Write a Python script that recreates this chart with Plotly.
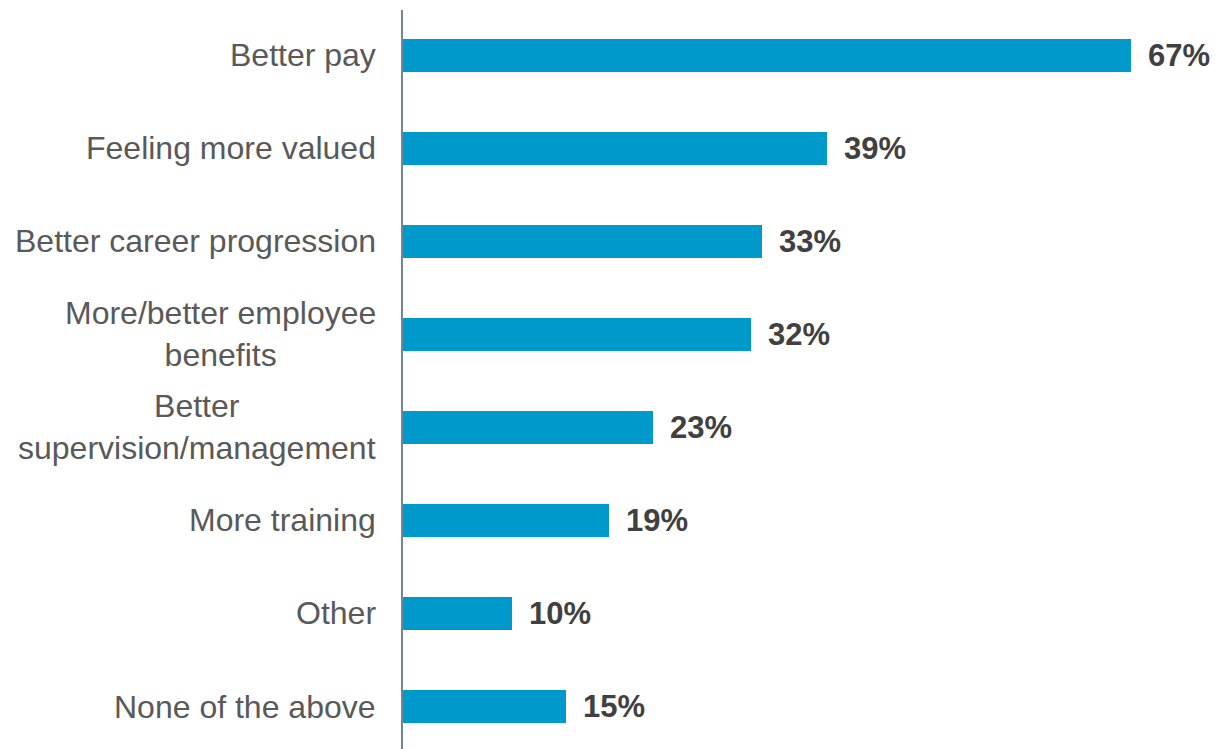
import plotly.graph_objects as go

# Survey responses: what would make employees stay
categories = [
    "Better pay",
    "Feeling more valued",
    "Better career progression",
    "More/better employee<br>benefits",
    "Better<br>supervision/management",
    "More training",
    "Other",
    "None of the above",
]
values = [67, 39, 33, 32, 23, 19, 10, 15]
value_labels = ["67%", "39%", "33%", "32%", "23%", "19%", "10%", "15%"]

BAR_COLOR = "#0099CC"
LABEL_COLOR = "#595959"
VALUE_COLOR = "#404040"
AXIS_COLOR = "#71869A"
FONT = "Liberation Sans, Arial, sans-serif"

idx = list(range(len(categories)))

fig = go.Figure(
    go.Bar(
        x=values,
        y=idx,
        orientation="h",
        marker=dict(color=BAR_COLOR, line=dict(width=0)),
        width=0.355,
        hoverinfo="skip",
    )
)

annotations = []
# Category names, centred per line, to the left of the axis
for i, cat in enumerate(categories):
    annotations.append(
        dict(
            x=0, xref="paper", y=i, yref="y",
            text=cat, showarrow=False,
            xanchor="right", yanchor="middle", align="center",
            xshift=-25,
            font=dict(family=FONT, size=32, color=LABEL_COLOR),
        )
    )
# Value labels at the end of each bar
for i, (v, lab) in enumerate(zip(values, value_labels)):
    annotations.append(
        dict(
            x=v, xref="x", y=i, yref="y",
            text=f"<b>{lab}</b>", showarrow=False,
            xanchor="left", yanchor="middle",
            xshift=15,
            font=dict(family=FONT, size=31, color=VALUE_COLOR),
        )
    )

fig.update_layout(
    width=1215,
    height=749,
    margin=dict(l=403, r=0, t=10, b=0, pad=0),
    paper_bgcolor="white",
    plot_bgcolor="white",
    showlegend=False,
    bargap=0,
    annotations=annotations,
    xaxis=dict(
        range=[0, 74.73],
        visible=False,
        showgrid=False,
        zeroline=False,
        fixedrange=True,
    ),
    yaxis=dict(
        range=[7.457, -0.489],
        showticklabels=False,
        ticks="",
        showgrid=False,
        zeroline=False,
        showline=True,
        linecolor=AXIS_COLOR,
        linewidth=2,
        fixedrange=True,
    ),
)

fig.write_html("out.html", config={"displayModeBar": False})
